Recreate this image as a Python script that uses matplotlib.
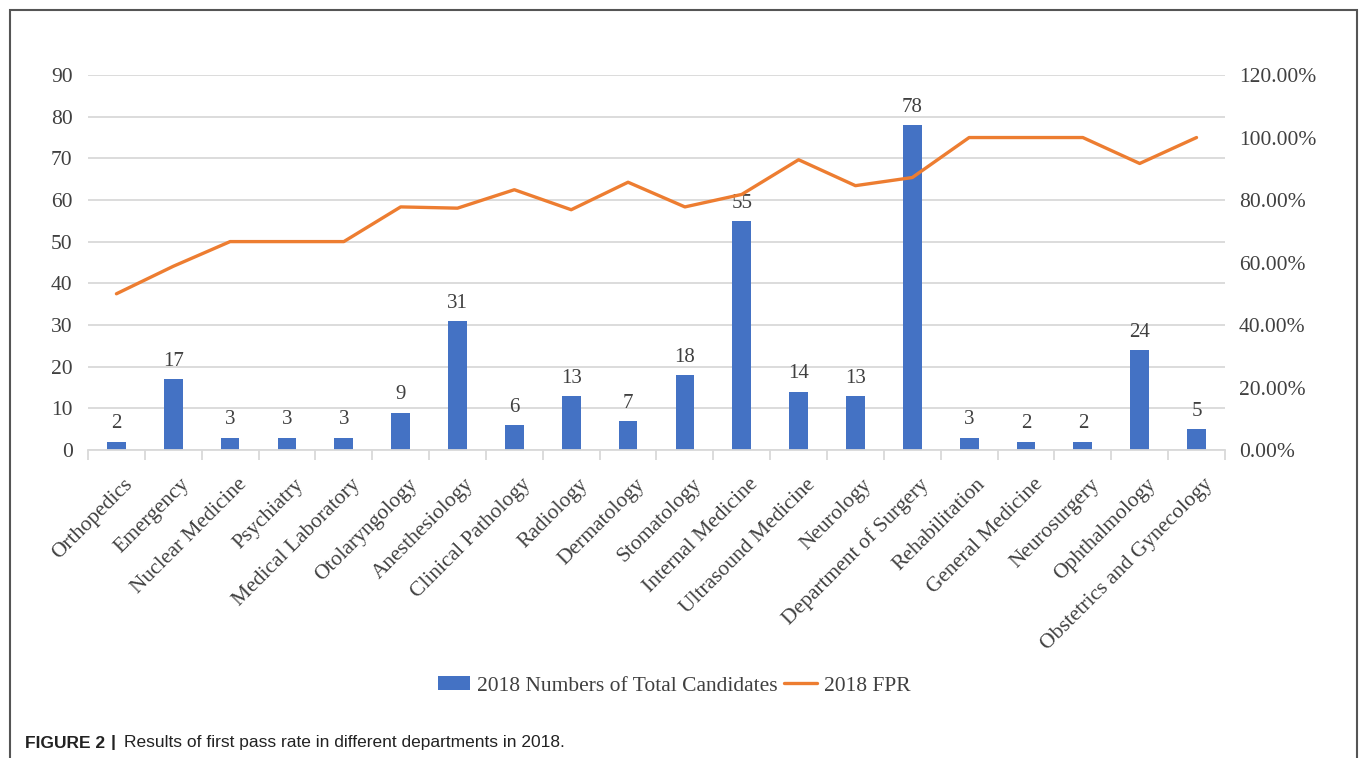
import matplotlib

matplotlib.use("Agg")
import matplotlib.pyplot as plt
import matplotlib.transforms as mtransforms
import numpy as np
from matplotlib.patches import Rectangle
from matplotlib.ticker import FuncFormatter

DEPARTMENTS = [
    "Orthopedics", "Emergency", "Nuclear Medicine", "Psychiatry", "Medical Laboratory",
    "Otolaryngology", "Anesthesiology", "Clinical Pathology", "Radiology", "Dermatology",
    "Stomatology", "Internal Medicine", "Ultrasound Medicine", "Neurology",
    "Department of Surgery", "Rehabilitation", "General Medicine", "Neurosurgery",
    "Ophthalmology", "Obstetrics and Gynecology",
]
CANDIDATES = [2, 17, 3, 3, 3, 9, 31, 6, 13, 7, 18, 55, 14, 13, 78, 3, 2, 2, 24, 5]
FPR = [0.500, 0.588, 0.667, 0.667, 0.667, 0.778, 0.774, 0.833, 0.769, 0.857,
       0.778, 0.818, 0.929, 0.846, 0.872, 1.000, 1.000, 1.000, 0.917, 1.000]
LEFT_TICKS = list(range(0, 100, 10))
RIGHT_TICKS = [0.0, 0.2, 0.4, 0.6, 0.8, 1.0, 1.2]

BLUE = "#4472C4"
ORANGE = "#ED7D31"
GRID = "#D9D9D9"
TEXT = "#404040"
SERIF = ["Liberation Serif", "DejaVu Serif"]
SANS = ["Liberation Sans", "DejaVu Sans"]

fig = plt.figure(figsize=(13.6, 7.58), dpi=100)
ax = fig.add_axes([0.0647, 0.4063, 0.8360, 0.4947])
x = np.arange(len(DEPARTMENTS))

ax.bar(x, CANDIDATES, width=0.33, color=BLUE, zorder=2, label="2018 Numbers of Total Candidates")
for xi, v in zip(x, CANDIDATES):
    ax.annotate(str(v), (xi, v), xytext=(0, 6), textcoords="offset points", ha="center",
                va="bottom", fontsize=15, family=SERIF, color=TEXT, zorder=5)

ax.set_xlim(-0.5, len(DEPARTMENTS) - 0.5)
ax.set_ylim(0, 90)
ax.set_yticks(LEFT_TICKS)
ax.yaxis.grid(True, color=GRID, linewidth=1.3, zorder=0)
ax.set_axisbelow(True)
for side in ["top", "right", "left"]:
    ax.spines[side].set_visible(False)
ax.spines["bottom"].set_color(GRID)
ax.spines["bottom"].set_linewidth(1.3)
ax.tick_params(axis="y", length=0, pad=11, labelsize=15.5, labelcolor=TEXT)
ax.set_xticks(np.append(x - 0.5, len(DEPARTMENTS) - 0.5), minor=False)
ax.set_xticklabels([])
ax.tick_params(axis="x", which="major", length=7, color=GRID, width=1.3)
ax.set_xticks(x, minor=True)
ax.set_xticklabels(DEPARTMENTS, minor=True, rotation=45, ha="right", va="top",
                   rotation_mode="anchor", fontsize=15.5, family=SERIF, color=TEXT)
ax.tick_params(axis="x", which="minor", length=0, pad=18)
shift = mtransforms.ScaledTranslation(7 / 100, 0, fig.dpi_scale_trans)
for lab in ax.get_xticklabels(minor=True):
    lab.set_transform(lab.get_transform() + shift)
for lab in ax.get_yticklabels():
    lab.set_family(SERIF)

ax2 = ax.twinx()
ax2.plot(x, FPR, color=ORANGE, linewidth=2.4, solid_capstyle="round", zorder=3,
         label="2018 FPR")
ax2.set_ylim(0, 1.2)
ax2.set_yticks(RIGHT_TICKS)
ax2.yaxis.set_major_formatter(FuncFormatter(lambda v, _: f"{v * 100:.2f}%"))
for side in ["top", "right", "left", "bottom"]:
    ax2.spines[side].set_visible(False)
ax2.tick_params(axis="y", length=0, pad=10, labelsize=15.5, labelcolor=TEXT)
for lab in ax2.get_yticklabels():
    lab.set_family(SERIF)

handles = [ax.patches[0], ax2.lines[0]]
fig.legend(handles, ["2018 Numbers of Total Candidates", "2018 FPR"], loc="center",
           bbox_to_anchor=(0.4956, 0.095), ncol=2, frameon=False, handlelength=1.5,
           handleheight=0.65, columnspacing=0.3, handletextpad=0.33,
           prop={"family": SERIF, "size": 15.5}, labelcolor=TEXT)

# outer frame
fig.patches.append(Rectangle((10 / 1360, -0.01), 1347 / 1360, 1 - 10 / 758 + 0.01,
                             transform=fig.transFigure, fill=False, edgecolor="#555555",
                             linewidth=1.5))

cap_y = 1 - 743 / 758
fig.text(25 / 1360, cap_y, "FIGURE 2", fontsize=12.5, fontweight="bold", family=SANS,
         va="center", ha="left", color="#222222")
fig.text(111 / 1360, cap_y, "|", fontsize=12.5, fontweight="bold", family=SANS,
         va="center", ha="left", color="#222222")
fig.text(124 / 1360, cap_y, "Results of first pass rate in different departments in 2018.",
         fontsize=12.5, family=SANS, va="center", ha="left", color="#222222")

fig.savefig("out.png", dpi=100)
